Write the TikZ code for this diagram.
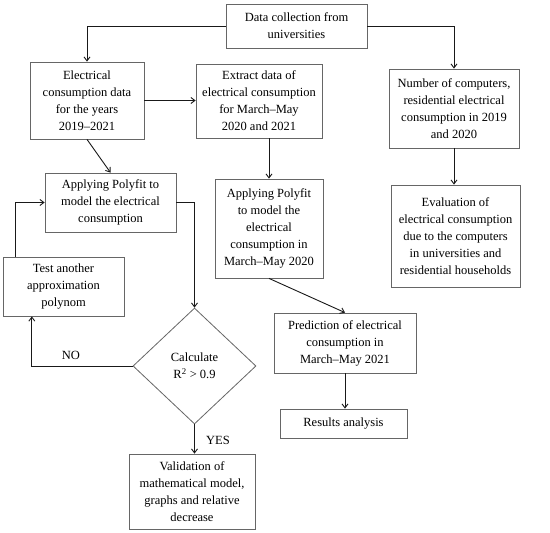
\documentclass[tikz,border=0pt]{standalone}
\usepackage{fontspec}
\setmainfont{Liberation Serif}
\usetikzlibrary{arrows.meta,shapes.geometric,calc}
\begin{document}
\begin{tikzpicture}[x=1pt,y=-1pt,
  box/.style={draw=black!60, line width=0.8pt, align=center, inner sep=0pt,
    font=\fontsize{12.5}{17}\selectfont},
  dia/.style={diamond, draw=black!60, line width=0.8pt, align=center, inner sep=0pt,
    font=\fontsize{12.5}{17}\selectfont},
  arr/.style={draw=black!90, line width=0.9pt, -{Straight Barb[length=4pt,width=6pt]}},
  lbl/.style={font=\fontsize{12.5}{17}\selectfont, inner sep=0pt}]
\useasboundingbox[fill=white] (0,0) rectangle (550,533);

\node[box, minimum width=141pt, minimum height=44pt] (dc) at (296.5,26) {Data collection from\\universities};
\node[box, minimum width=114pt, minimum height=77pt] (ecd) at (87,100.5) {Electrical\\consumption data\\for the years\\2019–2021};
\node[box, minimum width=126pt, minimum height=74pt] (ext) at (259,101) {Extract data of\\electrical consumption\\for March–May\\2020 and 2021};
\node[box, minimum width=130pt, minimum height=79pt] (num) at (454,108.5) {Number of computers,\\residential electrical\\consumption in 2019\\and 2020};
\node[box, minimum width=131pt, minimum height=59pt] (apl) at (110.5,202.5) {Applying Polyfit to\\model the electrical\\consumption};
\node[box, minimum width=108pt, minimum height=99pt] (apm) at (269,228.5) {Applying Polyfit\\to model the\\electrical\\consumption in\\March–May 2020};
\node[box, minimum width=129pt, minimum height=102pt] (eva) at (455.5,236) {Evaluation of\\electrical consumption\\due to the computers\\in universities and\\residential households};
\node[box, minimum width=121pt, minimum height=59pt] (tst) at (63.5,286.5) {Test another\\approximation\\polynom};
\node[box, minimum width=142pt, minimum height=60pt] (pred) at (345,343) {Prediction of electrical\\consumption in\\March–May 2021};
\node[box, minimum width=127pt, minimum height=29pt] (res) at (343.5,423.5) {Results analysis};
\node[dia, minimum width=123pt, minimum height=116pt] (d) at (194.5,366) {Calculate\\R\textsuperscript{2} > 0.9};
\node[box, minimum width=126pt, minimum height=75pt] (val) at (192,491.5) {Validation of\\mathematical model,\\graphs and relative\\decrease};

\node[lbl] (no) at (71,355) {NO};
\node[lbl] (yes) at (218,440) {YES};

\draw[arr] (dc.west) -| (ecd.north);
\draw[arr] (dc.east) -| (num.north);
\draw[arr] (ecd.east) -- (ecd.east -| ext.west);
\draw[arr] (ecd.south) -- (apl.north);
\draw[arr] (ext.south -| apm.north) -- (apm.north);
\draw[arr] (num.south) -- (num.south |- eva.north);
\draw[arr] (apm.south) -- (pred.north);
\draw[arr] (pred.south) -- (pred.south |- res.north);
\draw[arr] (apl.east) -| (d.north);
\coordinate (tb) at ($(tst.south west)!0.24!(tst.south east)$);
\coordinate (tt) at ($(tst.north west)!0.107!(tst.north east)$);
\draw[arr] (d.west) -| (tb);
\draw[arr] (tt) |- (apl.west);
\draw[arr] (d.south) -- (d.south |- val.north);
\end{tikzpicture}
\end{document}
